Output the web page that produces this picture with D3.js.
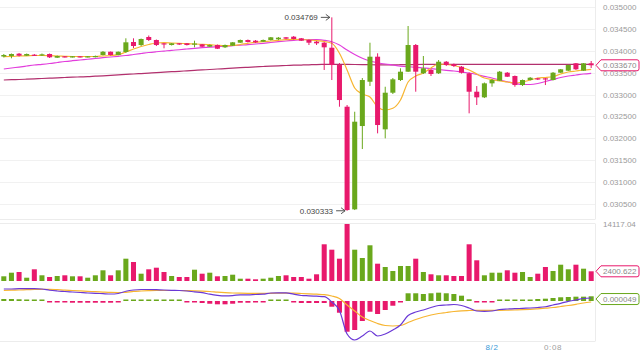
<!DOCTYPE html>
<html>
<head>
<meta charset="utf-8">
<script src="https://cdn.jsdelivr.net/npm/d3@7/dist/d3.min.js"></script>
<style>
body { margin: 0; background: #fff; }
svg text { font-family: "Liberation Sans", Arial, sans-serif; }
</style>
</head>
<body>
<svg id="chart" width="640" height="354"></svg>
<script>

// one candle per minute, last one is 0:10 on 8/2
const opens = [0.033871,0.033883,0.033936,0.033890,0.033913,0.033899,0.033929,0.033844,0.033876,0.033860,
    0.033876,0.033860,0.033860,0.033906,0.033981,0.033906,0.033975,0.034204,0.034135,0.034319,
    0.034250,0.034174,0.034135,0.034174,0.034174,0.034147,0.034151,0.034096,0.034135,0.034082,
    0.034119,0.034188,0.034250,0.034234,0.034211,0.034250,0.034266,0.034312,0.034326,0.034289,
    0.034250,0.034211,0.034188,0.034073,0.033676,0.032720,0.030366,0.032277,0.033293,0.033867,
    0.032201,0.033041,0.033332,0.033523,0.034135,0.033486,0.033562,0.033486,0.033752,0.033699,
    0.033637,0.033486,0.033064,0.032935,0.033256,0.033316,0.033500,0.033424,0.033217,0.033332,
    0.033371,0.033371,0.033332,0.033500,0.033546,0.033715,0.033546,0.033715];
const highs = [0.033929,0.033940,0.033952,0.033940,0.033929,0.033940,0.033940,0.033894,0.033883,0.033883,
    0.033883,0.033883,0.033894,0.033997,0.033986,0.033986,0.034289,0.034289,0.034284,0.034353,
    0.034261,0.034181,0.034181,0.034181,0.034181,0.034234,0.034158,0.034147,0.034147,0.034147,
    0.034204,0.034261,0.034261,0.034250,0.034261,0.034319,0.034319,0.034319,0.034342,0.034296,
    0.034261,0.034227,0.034204,0.034769,0.033722,0.032759,0.032605,0.033378,0.034188,0.033945,
    0.033178,0.033378,0.033601,0.034571,0.034158,0.033883,0.033585,0.033791,0.033768,0.033711,
    0.033653,0.033505,0.033194,0.033275,0.033355,0.033539,0.033516,0.033436,0.033344,0.033401,
    0.033383,0.033378,0.033516,0.033585,0.033688,0.033722,0.033722,0.033768];
const lows = [0.033849,0.033830,0.033871,0.033883,0.033883,0.033883,0.033837,0.033837,0.033849,0.033849,
    0.033849,0.033849,0.033849,0.033894,0.033894,0.033899,0.033952,0.034066,0.034112,0.034227,
    0.034112,0.034059,0.034124,0.034135,0.034124,0.034082,0.034089,0.034089,0.034043,0.034066,
    0.034112,0.034181,0.034193,0.034181,0.034204,0.034238,0.034250,0.034266,0.034261,0.034227,
    0.034135,0.034135,0.033562,0.033332,0.032720,0.030333,0.030350,0.031749,0.033194,0.032109,
    0.031994,0.033011,0.033309,0.033516,0.033064,0.033470,0.033424,0.033470,0.033653,0.033630,
    0.033481,0.032568,0.032759,0.032919,0.033178,0.033309,0.033401,0.033178,0.033194,0.033321,
    0.033332,0.033217,0.033321,0.033493,0.033539,0.033562,0.033539,0.033608];
const closes = [0.033906,0.033929,0.033890,0.033929,0.033899,0.033922,0.033853,0.033883,0.033860,0.033876,
    0.033860,0.033876,0.033883,0.033981,0.033906,0.033981,0.034197,0.034112,0.034273,0.034250,
    0.034135,0.034151,0.034174,0.034151,0.034135,0.034170,0.034096,0.034135,0.034050,0.034135,
    0.034197,0.034250,0.034204,0.034197,0.034250,0.034312,0.034303,0.034280,0.034273,0.034234,
    0.034188,0.034174,0.034082,0.033676,0.032873,0.030350,0.032376,0.033332,0.033867,0.032300,
    0.033041,0.033348,0.033523,0.034135,0.033523,0.033601,0.033470,0.033752,0.033676,0.033653,
    0.033500,0.033064,0.032935,0.033256,0.033332,0.033523,0.033408,0.033217,0.033332,0.033385,
    0.033348,0.033348,0.033500,0.033578,0.033676,0.033578,0.033715,0.033670];

const volumes = [1164,2056,2229,817,2898,1412,991,1239,1412,1164,
    1164,817,1412,2650,1412,2650,5524,4706,1808,2898,
    3294,2229,1239,991,991,2799,1808,2056,1164,1239,
    1560,570,570,421,570,817,1239,1412,991,991,
    570,1660,9091,7753,5524,14117.04,7753,5697,8843,4285,
    3468,2477,3716,3716,5524,2229,1660,1412,1412,1239,
    1239,9091,5127,1412,2056,2056,2650,2056,2229,991,
    1808,3468,2477,4037,2898,4037,3047,2400.622];

const maShort = [0.033867,0.033871,0.033883,0.033887,0.033894,0.033894,0.033890,0.033883,0.033876,0.033871,
    0.033871,0.033871,0.033871,0.033883,0.033894,0.033913,0.033975,0.034043,0.034101,0.034147,
    0.034181,0.034188,0.034181,0.034174,0.034165,0.034158,0.034151,0.034142,0.034128,0.034119,
    0.034124,0.034147,0.034174,0.034197,0.034211,0.034227,0.034243,0.034257,0.034266,0.034261,
    0.034250,0.034234,0.034215,0.034174,0.033945,0.033562,0.033149,0.033011,0.032942,0.032713,
    0.032644,0.032683,0.032873,0.033286,0.033424,0.033493,0.033608,0.033699,0.033688,0.033665,
    0.033619,0.033562,0.033470,0.033378,0.033344,0.033309,0.033286,0.033263,0.033286,0.033332,
    0.033378,0.033390,0.033413,0.033470,0.033516,0.033539,0.033562,0.033578];
const maMid = [0.033585,0.033608,0.033630,0.033653,0.033676,0.033692,0.033711,0.033734,0.033757,0.033775,
    0.033791,0.033809,0.033826,0.033844,0.033860,0.033876,0.033894,0.033917,0.033940,0.033963,
    0.033981,0.033997,0.034014,0.034027,0.034043,0.034059,0.034073,0.034085,0.034096,0.034108,
    0.034119,0.034131,0.034142,0.034158,0.034174,0.034193,0.034211,0.034227,0.034243,0.034257,
    0.034261,0.034257,0.034243,0.034211,0.034135,0.034020,0.033917,0.033830,0.033768,0.033729,
    0.033699,0.033676,0.033653,0.033637,0.033624,0.033608,0.033592,0.033573,0.033555,0.033539,
    0.033516,0.033493,0.033458,0.033417,0.033378,0.033332,0.033293,0.033252,0.033229,0.033229,
    0.033252,0.033298,0.033344,0.033390,0.033424,0.033447,0.033470,0.033486];
const maLong = [0.033332,0.033339,0.033344,0.033351,0.033358,0.033367,0.033374,0.033381,0.033390,0.033397,
    0.033404,0.033410,0.033420,0.033429,0.033440,0.033449,0.033461,0.033470,0.033481,0.033491,
    0.033502,0.033511,0.033523,0.033532,0.033543,0.033553,0.033564,0.033573,0.033585,0.033594,
    0.033605,0.033615,0.033624,0.033633,0.033642,0.033651,0.033658,0.033665,0.033672,0.033676,
    0.033681,0.033686,0.033690,0.033692,0.033692,0.033690,0.033688,0.033686,0.033683,0.033681,
    0.033681,0.033681,0.033683,0.033686,0.033688,0.033690,0.033692,0.033692,0.033692,0.033692,
    0.033692,0.033692,0.033692,0.033692,0.033692,0.033692,0.033692,0.033692,0.033692,0.033692,
    0.033692,0.033692,0.033692,0.033692,0.033692,0.033692,0.033692,0.033692];

const dif = [0.000300,0.000300,0.000308,0.000308,0.000308,0.000300,0.000268,0.000250,0.000238,0.000225,
    0.000213,0.000200,0.000193,0.000183,0.000175,0.000188,0.000243,0.000275,0.000288,0.000288,
    0.000283,0.000275,0.000268,0.000263,0.000250,0.000228,0.000208,0.000170,0.000143,0.000130,
    0.000135,0.000155,0.000155,0.000163,0.000170,0.000200,0.000205,0.000203,0.000170,0.000138,
    0.000130,0.000120,0.000110,-0.000025,-0.000238,-0.000825,-0.000975,-0.000875,-0.000750,-0.000875,
    -0.000825,-0.000725,-0.000600,-0.000363,-0.000275,-0.000225,-0.000163,-0.000113,-0.000100,-0.000088,
    -0.000113,-0.000175,-0.000250,-0.000258,-0.000250,-0.000213,-0.000200,-0.000193,-0.000183,-0.000175,
    -0.000163,-0.000143,-0.000100,-0.000058,-0.000008,0.000025,0.000063,0.000075];
const dea = [0.000263,0.000270,0.000275,0.000283,0.000288,0.000290,0.000293,0.000283,0.000270,0.000263,
    0.000253,0.000243,0.000233,0.000223,0.000215,0.000213,0.000218,0.000240,0.000250,0.000258,
    0.000263,0.000263,0.000263,0.000263,0.000260,0.000255,0.000248,0.000238,0.000223,0.000210,
    0.000200,0.000195,0.000193,0.000193,0.000193,0.000193,0.000195,0.000198,0.000195,0.000188,
    0.000180,0.000170,0.000160,0.000125,0.000063,-0.000100,-0.000250,-0.000400,-0.000488,-0.000563,
    -0.000613,-0.000625,-0.000613,-0.000538,-0.000463,-0.000400,-0.000350,-0.000313,-0.000288,-0.000263,
    -0.000245,-0.000238,-0.000233,-0.000233,-0.000233,-0.000233,-0.000230,-0.000225,-0.000218,-0.000208,
    -0.000195,-0.000180,-0.000163,-0.000138,-0.000113,-0.000083,-0.000050,-0.000025];
const hist = [0.000050,0.000050,0.000043,0.000033,0.000033,0.000025,-0.000025,-0.000033,-0.000033,-0.000043,
    -0.000043,-0.000043,-0.000043,-0.000043,-0.000043,-0.000033,0.000018,0.000025,0.000033,0.000033,
    0.000025,0.000018,0.000008,0.000008,-0.000008,-0.000033,-0.000050,-0.000068,-0.000083,-0.000083,
    -0.000068,-0.000043,-0.000043,-0.000033,-0.000025,0.000013,0.000013,0.000008,-0.000025,-0.000050,
    -0.000050,-0.000050,-0.000050,-0.000143,-0.000293,-0.000768,-0.000725,-0.000500,-0.000268,-0.000325,
    -0.000225,-0.000118,-0.000008,0.000193,0.000193,0.000175,0.000193,0.000208,0.000193,0.000175,
    0.000133,0.000043,-0.000038,-0.000025,-0.000025,0.000025,0.000025,0.000025,0.000033,0.000033,
    0.000050,0.000058,0.000075,0.000093,0.000100,0.000108,0.000108,0.000118];

const priceTicks = [0.0305, 0.031, 0.0315, 0.032, 0.0325, 0.033, 0.0335, 0.034, 0.0345, 0.035];
const volumeTicks = [14117.04];
const timeTickIndex = [64, 72];
const timeTickLabels = ["8/2", "0:08"];
const lastPrice = 0.033670;
const lastVolume = 2400.622;
const lastMacd = 0.000049;

const UP = "#6aa81c", DOWN = "#e8196c";

let svg = d3.select("#chart");
let plotRight = 595;

let x = d3.scaleBand().domain(d3.range(closes.length)).range([0, plotRight]).paddingInner(0.34).paddingOuter(0.17);
let cx = i => x(i) + x.bandwidth() / 2;
let y = d3.scaleLinear().domain([0.0305, 0.035]).range([203.5, 7.3]);
let yVol = d3.scaleLinear().domain([0, 14117.04]).range([281, 224]);
let yMacd = d3.scaleLinear().domain([-0.001, 0.00045]).range([341, 283]);

let isUp = i => closes[i] >= opens[i];

// frame + grid
let frame = svg.append("g").attr("stroke", "#ececec").attr("stroke-width", 1);
frame.selectAll("line.grid").data(priceTicks).join("line").classed("grid", true)
    .attr("x1", 0).attr("x2", plotRight).attr("y1", d => Math.round(y(d)) + 0.5).attr("y2", d => Math.round(y(d)) + 0.5)
    .attr("stroke", "#f1f1f1");
frame.append("line").attr("x1", 0).attr("x2", plotRight).attr("y1", 219.5).attr("y2", 219.5);
frame.append("line").attr("x1", 0).attr("x2", plotRight).attr("y1", 223.5).attr("y2", 223.5);
frame.append("line").attr("x1", 0).attr("x2", plotRight).attr("y1", 341.5).attr("y2", 341.5);
frame.append("line").attr("x1", plotRight + 0.5).attr("x2", plotRight + 0.5).attr("y1", 0).attr("y2", 219.5);
frame.append("line").attr("x1", plotRight + 0.5).attr("x2", plotRight + 0.5).attr("y1", 223.5).attr("y2", 341.5);

// moving averages
let maLine = d3.line().x((d, i) => cx(i)).y(d => y(d)).curve(d3.curveMonotoneX);
[[maLong, "#b2306e"], [maMid, "#e23ddc"], [maShort, "#f7b531"]].forEach(([data, color]) => {
    svg.append("path").datum(data).attr("d", maLine).attr("fill", "none").attr("stroke", color).attr("stroke-width", 1.2);
});

// candles
let candles = svg.append("g").selectAll("g").data(d3.range(closes.length)).join("g");
candles.append("line")
    .attr("x1", i => cx(i)).attr("x2", i => cx(i))
    .attr("y1", i => y(highs[i])).attr("y2", i => y(lows[i]))
    .attr("stroke", i => isUp(i) ? UP : DOWN).attr("stroke-width", 1);
candles.append("rect")
    .attr("x", i => x(i)).attr("width", x.bandwidth())
    .attr("y", i => y(Math.max(opens[i], closes[i])))
    .attr("height", i => Math.max(1.2, Math.abs(y(opens[i]) - y(closes[i]))))
    .attr("fill", i => isUp(i) ? UP : DOWN);

// volume
svg.append("g").selectAll("rect").data(volumes).join("rect")
    .attr("x", (d, i) => x(i)).attr("width", x.bandwidth())
    .attr("y", d => yVol(d)).attr("height", d => yVol(0) - yVol(d))
    .attr("fill", (d, i) => isUp(i) ? UP : DOWN);

// macd
svg.append("g").selectAll("rect").data(hist).join("rect")
    .attr("x", (d, i) => x(i)).attr("width", x.bandwidth())
    .attr("y", d => d >= 0 ? yMacd(d) - (Math.abs(yMacd(d) - yMacd(0)) < 1.5 ? 1.5 - Math.abs(yMacd(d) - yMacd(0)) : 0) : yMacd(0))
    .attr("height", d => Math.max(1.5, Math.abs(yMacd(d) - yMacd(0))))
    .attr("fill", d => d >= 0 ? UP : DOWN);
let macdLine = d3.line().x((d, i) => cx(i)).y(d => yMacd(d)).curve(d3.curveMonotoneX);
svg.append("path").datum(dea).attr("d", macdLine).attr("fill", "none").attr("stroke", "#f7b531").attr("stroke-width", 1.2);
svg.append("path").datum(dif).attr("d", macdLine).attr("fill", "none").attr("stroke", "#6a38d6").attr("stroke-width", 1.2);

// right axes
let priceAxis = svg.append("g").attr("transform", "translate(600,0)")
    .call(d3.axisRight(y).tickValues(priceTicks).tickSize(0).tickPadding(3).tickFormat(d3.format(".6f")));
let volAxis = svg.append("g").attr("transform", "translate(600,0)")
    .call(d3.axisRight(yVol).tickValues(volumeTicks).tickSize(0).tickPadding(3).tickFormat(d => d.toFixed(2)));
[priceAxis, volAxis].forEach(a => {
    a.select(".domain").remove();
    a.selectAll("text").attr("fill", "#9a9a9a").style("font-size", "8px");
});

// time axis
let timeAxis = svg.append("g").attr("transform", "translate(0,341)")
    .call(d3.axisBottom(x).tickValues(timeTickIndex).tickSize(0).tickPadding(3).tickFormat((d, i) => timeTickLabels[i]));
timeAxis.select(".domain").remove();
timeAxis.selectAll("text").style("font-size", "8px").attr("letter-spacing", "0.6px")
    .attr("fill", (d, i) => i === 0 ? "#3a98d8" : "#a0a0a0");

// last value tags
function tag(yPos, text, color) {
    let g = svg.append("g").attr("transform", "translate(0," + yPos + ")");
    g.append("path")
        .attr("d", "M596,0 L601,-5.5 L637,-5.5 Q639,-5.5 639,-3.5 L639,3.5 Q639,5.5 637,5.5 L601,5.5 Z")
        .attr("fill", "#fff").attr("stroke", color).attr("stroke-width", 1);
    g.append("text").attr("x", 603).attr("y", 0).attr("dy", "0.34em")
        .attr("fill", "#8a8a8a").style("font-size", "8px").text(text);
}
tag(y(lastPrice), lastPrice.toFixed(6), DOWN);
tag(yVol(lastVolume), lastVolume.toFixed(3), DOWN);
tag(yMacd(lastMacd), lastMacd.toFixed(6), UP);

// high / low markers
let hiIdx = d3.maxIndex(highs), loIdx = d3.minIndex(lows);
function marker(i, value) {
    let tip = cx(i) - 2, py = y(value);
    let g = svg.append("g").attr("stroke", "#444").attr("fill", "none").attr("stroke-width", 0.9);
    g.append("line").attr("x1", tip - 9).attr("x2", tip).attr("y1", py).attr("y2", py);
    g.append("path").attr("d", "M" + (tip - 4) + "," + (py - 3) + " L" + tip + "," + py + " L" + (tip - 4) + "," + (py + 3));
    svg.append("text").attr("x", tip - 12).attr("y", py).attr("dy", "0.34em").attr("text-anchor", "end")
        .attr("fill", "#444").style("font-size", "8px").text(value.toFixed(6));
}
marker(hiIdx, highs[hiIdx]);
marker(loIdx, lows[loIdx]);

</script>
</body>
</html>
